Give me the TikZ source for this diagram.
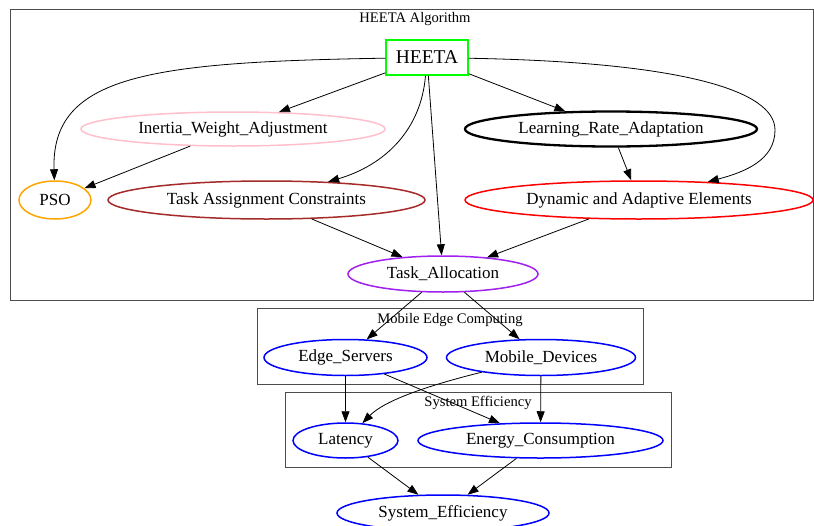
\documentclass[tikz,border=0pt]{standalone}
\usepackage{fontspec}
\setmainfont{Liberation Serif}
\usetikzlibrary{shapes.geometric,arrows.meta}
\definecolor{gvpink}{HTML}{FFC0CB}
\definecolor{gvorange}{HTML}{FFA500}
\definecolor{gvbrown}{HTML}{A52A2A}
\definecolor{gvred}{HTML}{FF0000}
\definecolor{gvpurple}{HTML}{A020F0}
\definecolor{gvgreen}{HTML}{00FF00}
\definecolor{gvblue}{HTML}{0000FF}
\begin{document}
\begin{tikzpicture}[x=1pt,y=-1pt,
  ell/.style={ellipse, draw, line width=1.5pt, inner sep=0pt, font=\fontsize{17}{20}\selectfont},
  edge/.style={draw, line width=0.8pt, -{Triangle[length=11pt,width=8pt]}},
  cluster/.style={draw=black!70, line width=0.9pt},
  ctitle/.style={font=\fontsize{14.6}{17}\selectfont, inner sep=0pt}]
\useasboundingbox (0,0) rectangle (814,525);

% clusters
\draw[cluster] (10,9) rectangle (813,300);
\node[ctitle] (t1) at (415,19) {HEETA Algorithm};
\draw[cluster] (257,308) rectangle (643,384);
\node[ctitle] (t2) at (450,320) {Mobile Edge Computing};
\draw[cluster] (285,392) rectangle (671,467);
\node[ctitle] (t3) at (478,403) {System Efficiency};

% nodes
\node[draw=gvgreen, line width=1.5pt, inner sep=0pt, minimum width=82pt, minimum height=35pt,
      font=\fontsize{19.5}{22}\selectfont] (heeta) at (427,57.5) {HEETA};
\node[ell, draw=gvpink, minimum width=304pt, minimum height=34pt] (iwa) at (233,129) {Inertia\_Weight\_Adjustment};
\node[ell, draw=black, line width=2.3pt, minimum width=292pt, minimum height=35pt] (lra) at (611,129) {Learning\_Rate\_Adaptation};
\node[ell, draw=gvorange, minimum width=72pt, minimum height=38pt] (pso) at (55,200) {PSO};
\node[ell, draw=gvbrown, minimum width=317pt, minimum height=38pt] (tac) at (266.5,200) {Task Assignment Constraints};
\node[ell, draw=gvred, minimum width=348pt, minimum height=38pt] (dae) at (639,200) {Dynamic and Adaptive Elements};
\node[ell, draw=gvpurple, minimum width=190pt, minimum height=36pt] (ta) at (443,274) {Task\_Allocation};

\node[ell, draw=gvblue, minimum width=163pt, minimum height=36pt] (es) at (345.5,357.5) {Edge\_Servers};
\node[ell, draw=gvblue, minimum width=189pt, minimum height=36pt] (md) at (541,357.5) {Mobile\_Devices};
\node[ell, draw=gvblue, minimum width=105pt, minimum height=35pt] (lat) at (345.5,440.5) {Latency};
\node[ell, draw=gvblue, minimum width=245pt, minimum height=35pt] (ec) at (540.5,440.5) {Energy\_Consumption};
\node[ell, draw=gvblue, minimum width=212pt, minimum height=36pt] (se) at (443,513) {System\_Efficiency};

% edges
\draw[edge] (heeta) .. controls (150,62) and (51,75) .. (pso);
\draw[edge] (heeta) -- (iwa);
\draw[edge] (heeta) .. controls (421,130) and (385,165) .. (tac);
\draw[edge] (heeta) -- (ta);
\draw[edge] (heeta) -- (lra);
\draw[edge] (heeta) .. controls (680,62) and (775,90) .. (775,130) .. controls (775,160) and (745,172) .. (dae);
\draw[edge] (iwa) -- (pso);
\draw[edge] (lra) -- (dae);
\draw[edge] (tac) -- (ta);
\draw[edge] (dae) -- (ta);
\draw[edge] (ta) -- (es);
\draw[edge] (ta) -- (md);
\draw[edge] (es) -- (lat);
\draw[edge] (es) -- (ec);
\draw[edge] (md) .. controls (430,385) and (385,400) .. (lat);
\draw[edge] (md) -- (ec);
\draw[edge] (lat) -- (se);
\draw[edge] (ec) -- (se);
\end{tikzpicture}
\end{document}
